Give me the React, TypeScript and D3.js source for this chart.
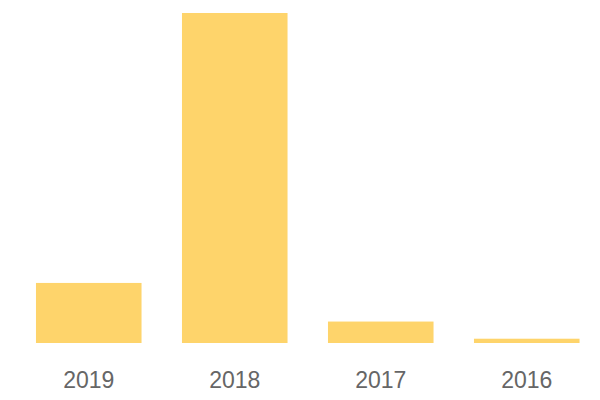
import React from "react";
import * as d3 from "d3";

const categories = ["2019", "2018", "2017", "2016"];
const values = [18.2, 100, 6.5, 1.3];

export default function App() {
  const W = 600, H = 400;
  const x = d3.scaleBand<string>().domain(categories).range([15.75, 599.75]).paddingInner(0.277).paddingOuter(0.1385);
  const y = d3.scaleLinear().domain([0, 100]).range([343, 13]);
  return (
    <svg width={W} height={H} style={{ position: "absolute", left: 0, top: 0 }}>
      {categories.map((c, i) => (
        <rect key={c} x={x(c)} y={y(values[i])} width={x.bandwidth()} height={y(0) - y(values[i])} fill="#fed46b" />
      ))}
      {categories.map((c) => (
        <text key={c} x={(x(c) as number) + x.bandwidth() / 2} y={388} textAnchor="middle" fontFamily="'Liberation Sans', Arial, sans-serif" fontSize={23} fill="#666">{c}</text>
      ))}
    </svg>
  );
}
